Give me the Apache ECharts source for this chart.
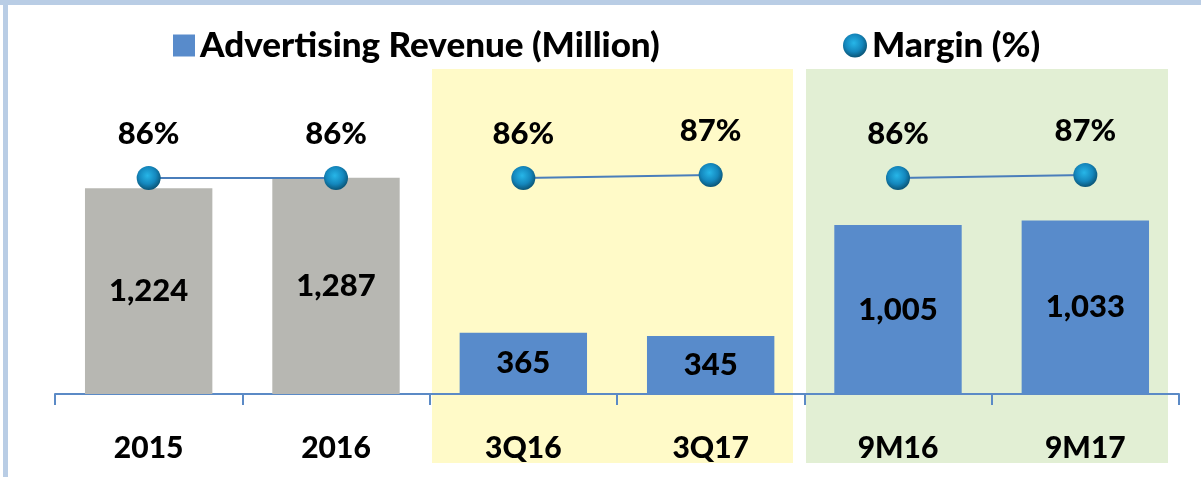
<!DOCTYPE html>
<html lang="en">
<head>
<meta charset="UTF-8">
<title>Advertising Revenue</title>
<script src="https://cdn.jsdelivr.net/npm/echarts@6/dist/echarts.min.js"></script>
<style>
  html, body { margin: 0; padding: 0; background: #fff; }
  #main { width: 1201px; height: 477px; }
</style>
</head>
<body>
<div id="main"></div>
<script>
  // data
  const periods = ["2015", "2016", "3Q16", "3Q17", "9M16", "9M17"];
  const revenue = [1224, 1287, 365, 345, 1005, 1033];
  const margin = [86, 86, 86, 87, 86, 87];
  // margin line is drawn in three separate pairs
  const marginPairs = [[0, 1], [2, 3], [4, 5]];

  const FONT = "Lato";
  const WEIGHT = 900;
  const gray = "#b7b7b2";
  const blue = "#588bcb";

  var ball = {
    type: "radial", x: 0.45, y: 0.4, r: 0.6,
    colorStops: [
      { offset: 0, color: "#27b6e8" },
      { offset: 0.6, color: "#1487bd" },
      { offset: 1, color: "#0b5577" }
    ]
  };

  var barData = revenue.map(function (v, i) {
    return i < 2 ? { value: v, itemStyle: { color: gray } } : v;
  });

  var lineSeries = marginPairs.map(function (p) {
    return {
      name: "Margin (%)",
      type: "line",
      yAxisIndex: 1,
      data: margin.map(function (v, i) { return p.indexOf(i) >= 0 ? v : "-"; }),
      symbol: "circle",
      symbolSize: 24,
      itemStyle: { color: ball },
      lineStyle: { color: "#4a7ebb", width: 2 },
      label: {
        show: true, position: "top", distance: 17,
        formatter: "{c}%",
        fontFamily: FONT, fontWeight: WEIGHT, fontSize: 31, color: "#000"
      },
      z: 5
    };
  });

  var chart = echarts.init(document.getElementById("main"));
  var option = {
    animation: false,
    graphic: [
      { type: "rect", shape: { x: 432, y: 69, width: 361, height: 394 }, style: { fill: "#fffac8" }, z: -10 },
      { type: "rect", shape: { x: 806, y: 69, width: 362, height: 394 }, style: { fill: "#e2efd4" }, z: -10 },
      { type: "rect", shape: { x: 0, y: 0, width: 1201, height: 5 }, style: { fill: "#b9cde5" } },
      { type: "rect", shape: { x: 3, y: 0, width: 5, height: 477 }, style: { fill: "#b9cde5" } }
    ],
    legend: [
      {
        left: 168, top: 23, itemWidth: 22, itemHeight: 22, itemGap: 8,
        data: [{ name: "Advertising Revenue (Million)", icon: "rect" }],
        textStyle: { fontFamily: FONT, fontWeight: WEIGHT, fontSize: 35, color: "#000" }
      },
      {
        left: 838, top: 23, itemWidth: 24, itemHeight: 24, itemGap: 8,
        data: [{ name: "Margin (%)", icon: "circle" }],
        textStyle: { fontFamily: FONT, fontWeight: WEIGHT, fontSize: 35, color: "#000" }
      }
    ],
    grid: { left: 55, right: 22, top: 68, bottom: 83, containLabel: false },
    xAxis: {
      type: "category",
      data: periods,
      axisLine: { lineStyle: { color: "#5b8ac6", width: 2 } },
      axisTick: { show: true, length: 11, lineStyle: { color: "#5b8ac6", width: 2 } },
      axisLabel: {
        margin: 39, fontFamily: FONT, fontWeight: WEIGHT, fontSize: 30, color: "#000"
      }
    },
    yAxis: [
      { type: "value", min: 0, max: 1940, show: false, splitLine: { show: false } },
      { type: "value", min: 14, max: 122.67, show: false, splitLine: { show: false } }
    ],
    series: [
      {
        name: "Advertising Revenue (Million)",
        type: "bar",
        data: barData,
        barWidth: "68%",
        itemStyle: { color: blue },
        label: {
          show: true, position: "inside",
          formatter: function (p) { return p.value.toLocaleString("en-US"); },
          fontFamily: FONT, fontWeight: WEIGHT, fontSize: 31, color: "#000"
        }
      }
    ].concat(lineSeries)
  };
  chart.setOption(option);
</script>
</body>
</html>
